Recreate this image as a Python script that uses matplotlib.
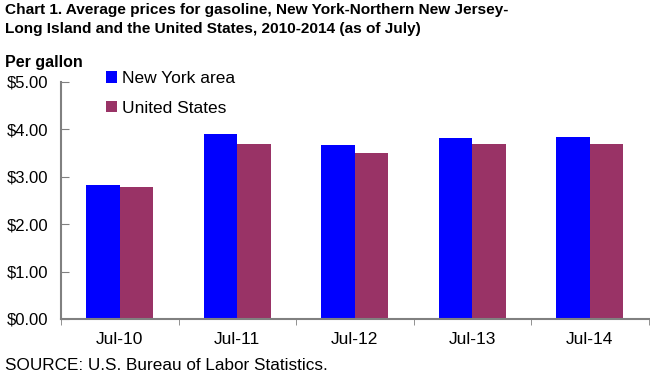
import matplotlib
matplotlib.use("Agg")
import matplotlib.pyplot as plt
import numpy as np
from matplotlib.ticker import FuncFormatter

categories = ["Jul-10", "Jul-11", "Jul-12", "Jul-13", "Jul-14"]
new_york = [2.83, 3.90, 3.68, 3.82, 3.84]
united_states = [2.78, 3.70, 3.50, 3.69, 3.69]
series_names = ["New York area", "United States"]

plt.rcParams['font.family'] = ['Liberation Sans', 'DejaVu Sans']

fig = plt.figure(figsize=(6.5, 3.74), dpi=100)
ax = fig.add_axes([61/650, 1-319/374, (648.5-61)/650, (319-82)/374])

x = np.arange(len(categories))
w = 0.286
ax.bar(x - w/2, new_york, width=w, color="#0000FF", label=series_names[0])
ax.bar(x + w/2, united_states, width=w, color="#993366", label=series_names[1])

ax.set_xlim(-0.5, len(categories) - 0.5)
ax.set_ylim(0, 5)
ax.set_yticks(np.arange(0, 5.01, 1))
ax.yaxis.set_major_formatter(FuncFormatter(lambda v, p: f"${v:.2f}"))
ax.set_xticks(x)
ax.set_xticklabels(categories)
ax.set_xticks(np.arange(-0.5, len(categories)), minor=True)
ax.tick_params(axis='x', which='major', length=0, pad=9, labelsize=12.5)
ax.tick_params(axis='x', which='minor', length=4, direction='out', color='#808080')
ax.tick_params(axis='y', direction='in', length=6, color='#808080', pad=9, labelsize=12)

for s in ['top', 'right']:
    ax.spines[s].set_visible(False)
for s in ['left', 'bottom']:
    ax.spines[s].set_color('#808080')
    ax.spines[s].set_linewidth(1.5)

leg = ax.legend(loc='upper left', bbox_to_anchor=(106/650, 1-71/374), bbox_transform=fig.transFigure,
                frameon=False, fontsize=12.5, handlelength=0.65, handleheight=0.65,
                handletextpad=0.25, labelspacing=0.85, borderaxespad=0, borderpad=0)

fig.text(5/650, 1-3/374, "Chart 1. Average prices for gasoline, New York-Northern New Jersey-\nLong Island and the United States, 2010-2014 (as of July)",
         ha='left', va='top', fontsize=11.1, fontweight='bold', linespacing=1.45)
fig.text(5/650, 1-63/374, "Per gallon", ha='left', va='center', fontsize=11.5, fontweight='bold')
fig.text(5/650, 1-366/374, "SOURCE: U.S. Bureau of Labor Statistics.", ha='left', va='center', fontsize=12.3)

fig.savefig("out.png", dpi=100)
